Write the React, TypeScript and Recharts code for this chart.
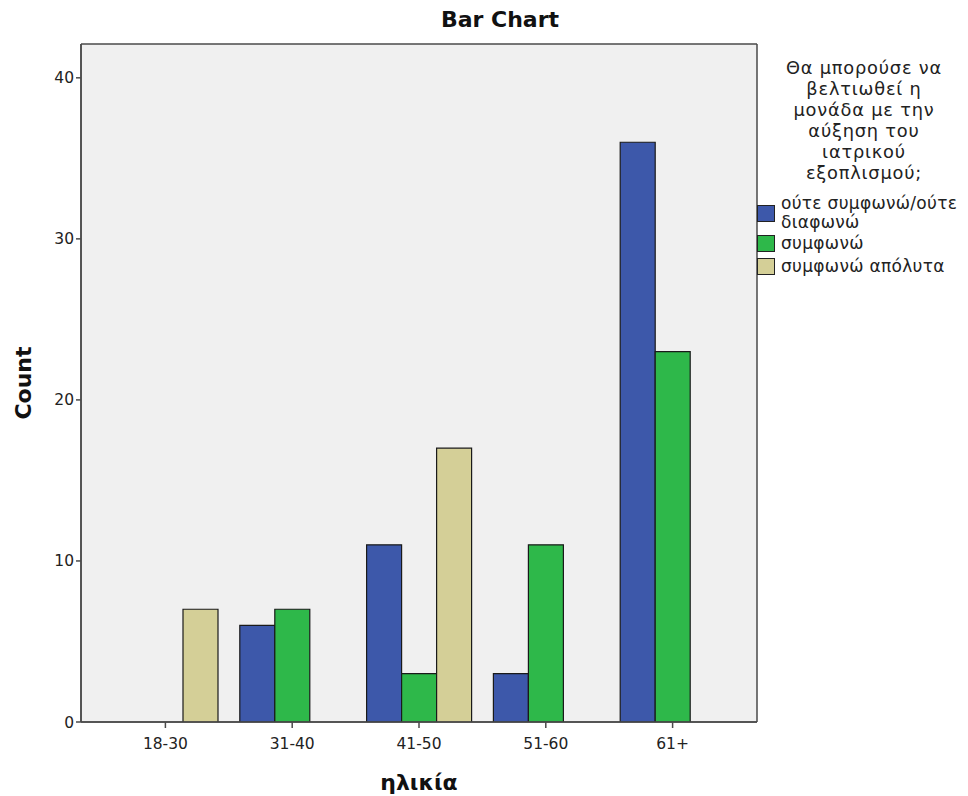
import React from "react";
import { BarChart, Bar, XAxis, YAxis, CartesianGrid, Label } from "recharts";

const categories = ["18-30", "31-40", "41-50", "51-60", "61+"];
const neitherValues = [0, 6, 11, 3, 36];
const agreeValues = [0, 7, 3, 11, 23];
const stronglyAgreeValues = [7, 0, 17, 0, 0];
const yTicks = [0, 10, 20, 30, 40];
const seriesNames = ["ούτε συμφωνώ/ούτε διαφωνώ", "συμφωνώ", "συμφωνώ απόλυτα"];
const seriesColors = ["#3d58aa", "#2eb84a", "#d4cf97"];
const legendTitleLines = ["Θα μπορούσε να", "βελτιωθεί η", "μονάδα με την", "αύξηση του", "ιατρικού", "εξοπλισμού;"];

const data = categories.map((c, i) => ({
  name: c,
  s0: neitherValues[i],
  s1: agreeValues[i],
  s2: stronglyAgreeValues[i],
}));

const FONT = "'DejaVu Sans', sans-serif";
const AXIS = "#4a4a4a";

export default function App() {
  return (
    <div style={{ position: "absolute", left: 0, top: 0, width: 968, height: 796, background: "#fff", fontFamily: FONT }}>
      <div style={{ position: "absolute", left: 0, top: 7, width: 1000, textAlign: "center", fontWeight: "bold", fontSize: 22, color: "#111" }}>
        Bar Chart
      </div>
      <BarChart
        width={968}
        height={796}
        data={data}
        margin={{ top: 44, right: 211, bottom: 44, left: 41 }}
        barGap={0}
        barCategoryGap={11}
      >
        <CartesianGrid
          fill="#f0f0f0"
          stroke={AXIS}
          strokeWidth={1.5}
          horizontalCoordinatesGenerator={({ offset }: any) => [offset.top, offset.top + offset.height]}
          verticalCoordinatesGenerator={({ offset }: any) => [offset.left, offset.left + offset.width]}
        />
        <XAxis
          dataKey="name"
          height={30}
          padding={{ left: 21, right: 21 }}
          axisLine={{ stroke: AXIS, strokeWidth: 1.5 }}
          tickLine={{ stroke: AXIS, strokeWidth: 1.5 }}
          tickSize={6}
          tick={{ fill: "#222", fontSize: 15.5, fontFamily: FONT, dy: 8 }}
        >
          <Label value="ηλικία" position="insideBottom" offset={-38} style={{ fontWeight: "bold", fontSize: 22, fill: "#111", fontFamily: FONT }} />
        </XAxis>
        <YAxis
          width={40}
          domain={[0, 42.1]}
          ticks={yTicks}
          allowDataOverflow
          axisLine={{ stroke: AXIS, strokeWidth: 1.5 }}
          tickLine={{ stroke: AXIS, strokeWidth: 1.5 }}
          tickSize={5}
          tick={{ fill: "#222", fontSize: 15.5, fontFamily: FONT }}
        >
          <Label value="Count" angle={-90} position="insideLeft" offset={-18} style={{ fontWeight: "bold", fontSize: 22, fill: "#111", fontFamily: FONT, textAnchor: "middle" }} />
        </YAxis>
        {["s0", "s1", "s2"].map((k, i) => (
          <Bar key={k} dataKey={k} fill={seriesColors[i]} stroke="#1a1a1a" strokeWidth={1.2} isAnimationActive={false} />
        ))}
      </BarChart>
      <div style={{ position: "absolute", left: 764, top: 57, width: 200, textAlign: "center", fontSize: 17.8, letterSpacing: 0.8, lineHeight: "21px", color: "#222" }}>
        {legendTitleLines.map((l, i) => (
          <div key={i}>{l}</div>
        ))}
      </div>
      <div style={{ position: "absolute", left: 757, top: 193.5, width: 211, fontSize: 17, letterSpacing: 0.3, color: "#222" }}>
        {seriesNames.map((n, i) => (
          <div key={i} style={{ display: "flex", alignItems: "flex-start", marginBottom: i === 0 ? 2 : 4 }}>
            <div style={{ width: 16, height: 15, background: seriesColors[i], border: "1px solid #222", marginTop: i === 0 ? 11.5 : 1.5, flexShrink: 0 }} />
            <div style={{ marginLeft: 6, lineHeight: "19px", width: 188 }}>{n}</div>
          </div>
        ))}
      </div>
    </div>
  );
}
